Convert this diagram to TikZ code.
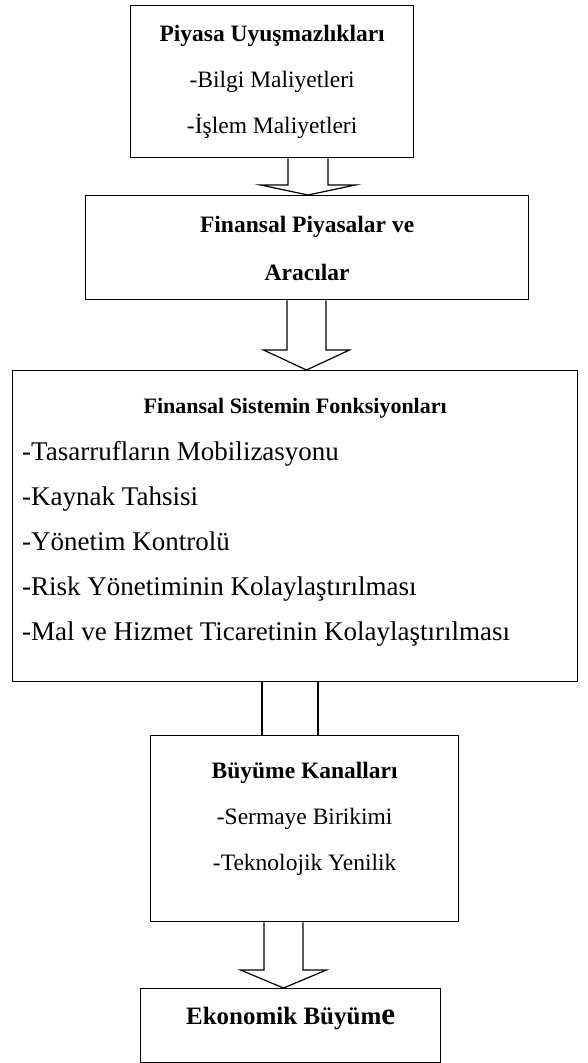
\documentclass[tikz,border=0pt]{standalone}
\usepackage{fontspec}
\setmainfont{Liberation Serif}
\usetikzlibrary{positioning, calc}

\tikzset{
  box/.style={draw, line width=1.3pt, inner sep=0pt, anchor=north west},
  txt/.style={anchor=base, inner sep=0pt, font=\fontsize{23.5}{28}\selectfont},
  hd/.style={txt, font=\fontsize{23.5}{28}\selectfont\bfseries},
  item/.style={txt, anchor=base west, font=\fontsize{27}{32}\selectfont},
  arrowline/.style={line width=1.2pt, line join=miter},
}

% hollow arrow: start, tip, shaft half width, head half width, head length
\newcommand{\blockarrow}[5]{%
  \draw[arrowline] let \p1=(#1), \p2=(#2) in
    (\x1-#3,\y1) -- (\x1-#3,\y2+#5) -- (\x1-#4,\y2+#5) -- (\x2,\y2)
    -- (\x1+#4,\y2+#5) -- (\x1+#3,\y2+#5) -- (\x1+#3,\y1);}

\begin{document}
\begin{tikzpicture}[x=1pt, y=-1pt]
\useasboundingbox (0,0) rectangle (587,1063);

\node[box, minimum width=283pt, minimum height=152pt] (piyasa) at (130,5) {};
\node[box, minimum width=443pt, minimum height=104pt] (aracilar) at (85,195) {};
\node[box, minimum width=565pt, minimum height=311pt] (fonks) at (12,370) {};
\node[box, minimum width=308pt, minimum height=186pt] (buyume) at (150,735) {};
\node[box, minimum width=300pt, minimum height=74pt] (ekonomik) at (140,988) {};

\node[hd] (piyasaT) at ($(piyasa.north)+(0,36)$) {Piyasa Uyuşmazlıkları};
\node[txt] (bilgi) at ($(piyasaT.base)+(0,46)$) {-Bilgi Maliyetleri};
\node[txt] (islem) at ($(bilgi.base)+(0,46)$) {-İşlem Maliyetleri};

\node[hd] (aracilarT) at ($(aracilar.north)+(0,37)$) {Finansal Piyasalar ve};
\node[hd] (aracilarT2) at ($(aracilarT.base)+(0,48)$) {Aracılar};

\node[hd, font=\fontsize{22}{26}\selectfont\bfseries] (fonksT) at ($(fonks.north)+(0,43)$) {Finansal Sistemin Fonksiyonları};
\node[item] (tasarruf) at ($(fonks.north west)+(10,90)$) {-Tasarrufların Mobilizasyonu};
\node[item] (kaynak) at ($(tasarruf.base west)+(0,45)$) {-Kaynak Tahsisi};
\node[item] (yonetim) at ($(kaynak.base west)+(0,45)$) {-Yönetim Kontrolü};
\node[item] (risk) at ($(yonetim.base west)+(0,45)$) {-Risk Yönetiminin Kolaylaştırılması};
\node[item] (ticaret) at ($(risk.base west)+(0,45)$) {-Mal ve Hizmet Ticaretinin Kolaylaştırılması};

\node[hd] (buyumeT) at ($(buyume.north)+(0,43)$) {Büyüme Kanalları};
\node[txt] (sermaye) at ($(buyumeT.base)+(0,46)$) {-Sermaye Birikimi};
\node[txt] (teknoloji) at ($(sermaye.base)+(0,46)$) {-Teknolojik Yenilik};

\node[hd, font=\fontsize{25}{30}\selectfont\bfseries] (ekonomikT) at ($(ekonomik.north)+(0,36)$) {Ekonomik Büyüm{\fontsize{31}{31}\selectfont e}};

% connectors
\coordinate (ok1) at (308,0);
\coordinate (ok2) at (306.5,0);
\coordinate (ok4) at (283.5,0);
\coordinate (k1) at (262,0);
\coordinate (k2) at (318,0);
\blockarrow{piyasa.south -| ok1}{aracilar.north -| ok1}{20pt}{47.5pt}{10pt}
\blockarrow{aracilar.south -| ok2}{fonks.north -| ok2}{19.5pt}{43pt}{20pt}
\draw[arrowline] (fonks.south -| k1) -- (buyume.north -| k1);
\draw[arrowline] (fonks.south -| k2) -- (buyume.north -| k2);
\blockarrow{buyume.south -| ok4}{ekonomik.north -| ok4}{19.5pt}{43pt}{18pt}
\end{tikzpicture}
\end{document}
